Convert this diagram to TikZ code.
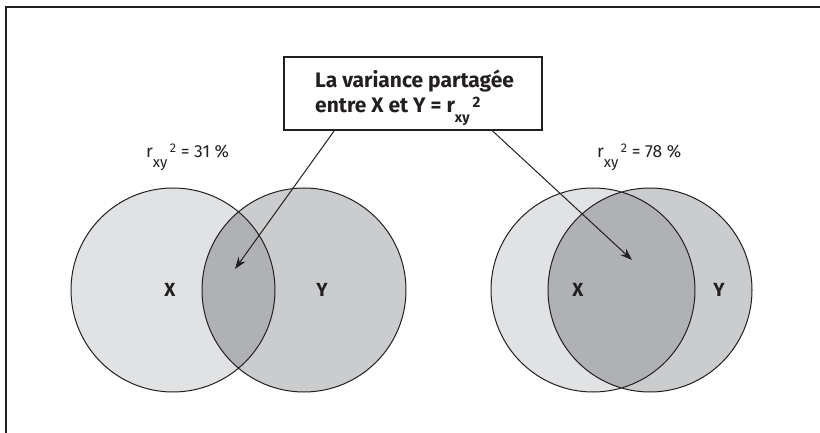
\documentclass[tikz,border=0pt]{standalone}
\usepackage{fontspec}
\setmainfont{Fira Sans}
\usetikzlibrary{arrows.meta,calc}
\definecolor{cx}{RGB}{225,226,228}
\definecolor{cy}{RGB}{203,204,206}
\definecolor{cxy}{RGB}{176,177,180}
\definecolor{ink}{RGB}{35,31,32}
\newcommand{\myrxy}[3]{r\raisebox{-#1em}{\scalebox{#3}{xy}}\hspace{0.14em}\raisebox{#2em}{\scalebox{0.72}{2}}}
\begin{document}
\begin{tikzpicture}[x=1pt,y=-1pt,
  circ/.style={draw=ink, line width=1pt},
  arr/.style={draw=ink, line width=1pt, -{Stealth[length=12pt,width=8.5pt]}},
  vlab/.style={font=\fontsize{19}{22}\selectfont\bfseries, text=ink},
  rlab/.style={anchor=base west, font=\fontsize{17.5}{20}\selectfont, text=ink, inner sep=0pt},
  btext/.style={anchor=base west, font=\fontsize{21}{25}\selectfont\bfseries, text=ink, inner sep=0pt},
  boxst/.style={draw=ink, line width=1.4pt, fill=white, minimum width=258pt, minimum height=73pt, inner sep=0pt}]
\useasboundingbox (0,0) rectangle (820,433);
\draw[ink, line width=2.2pt] (6,433) -- (6,7) -- (820,7);
% left diagram
\coordinate (lx) at (173,290);
\coordinate (ly) at (304,290);
\fill[cx] (lx) circle (102pt);
\fill[cy] (ly) circle (102pt);
\begin{scope}
  \clip (lx) circle (102pt);
  \fill[cxy] (ly) circle (102pt);
\end{scope}
\draw[circ] (lx) circle (102pt) (ly) circle (102pt);
% right diagram
\coordinate (rx) at (593,290);
\coordinate (ry) at (650,290);
\fill[cx] (rx) circle (102pt);
\fill[cy] (ry) circle (102pt);
\begin{scope}
  \clip (rx) circle (102pt);
  \fill[cxy] (ry) circle (102pt);
\end{scope}
\draw[circ] (rx) circle (102pt) (ry) circle (102pt);
% labels
\node[vlab] (lX) at (170,290) {X};
\node[vlab] (lY) at (322,290) {Y};
\node[vlab] (rX) at (578,290) {X};
\node[vlab] (rY) at (719,290) {Y};
\node[rlab] (r1) at (146,158) {\myrxy{0.52}{0.34}{0.85} = 31 \%};
\node[rlab] (r2) at (597,158) {\myrxy{0.52}{0.34}{0.85} = 78 \%};
% box
\node[boxst] (box) at (413,93.5) {};
\node[btext] (bl1) at (315,88) {La variance partagée};
\node[btext] (bl2) at (315,113) {entre X et Y = \myrxy{0.43}{0.24}{0.68}};
\coordinate (t1) at (235,269);
\coordinate (t2) at (632,260);
\draw[arr] ($(box.south west)+(51,0)$) -- (t1);
\draw[arr] ($(box.south west)+(209,0)$) -- (t2);
\end{tikzpicture}
\end{document}
